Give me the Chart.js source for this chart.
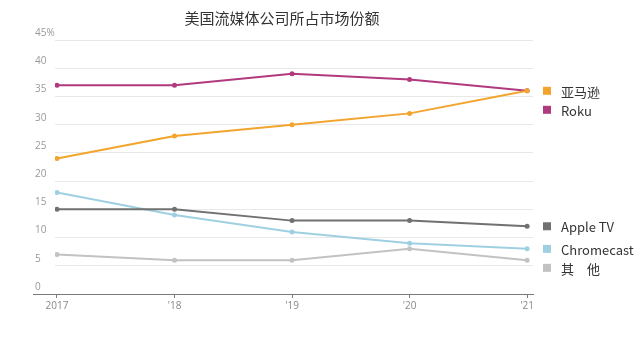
<!DOCTYPE html>
<html>
<head>
<meta charset="utf-8">
<script src="https://cdn.jsdelivr.net/npm/chart.js@4"></script>
<style>
  html, body { margin: 0; padding: 0; background: #fff; }
  #wrap { width: 641px; height: 349px; }
</style>
</head>
<body>
<div id="wrap"><canvas id="shareChart"></canvas></div>
<script>
const years = [2017, 2018, 2019, 2020, 2021];
const yearLabels = ['2017', "'18", "'19", "'20", "'21"];

const amazon = [24, 28, 30, 32, 36];
const roku = [37, 37, 39, 38, 36];
const appleTv = [15, 15, 13, 13, 12];
const chromecast = [18, 14, 11, 9, 8];
const others = [7, 6, 6, 8, 6];

const seriesNames = ['亚马逊', 'Roku', 'Apple TV', 'Chromecast', '其　他'];
const seriesColors = ['#f2a42c', '#b13a7f', '#717171', '#9fd0e2', '#c2c2c2'];
const seriesValues = [amazon, roku, appleTv, chromecast, others];

const CJK = "'Noto Sans CJK SC', 'Noto Sans', sans-serif";

// title centered over the plot, end-of-line legend, and the axis stub on the left
const decorations = {
    id: 'decorations',
    afterDraw(chart) {
        const ctx = chart.ctx;
        const area = chart.chartArea;
        const yScale = chart.scales.y;
        ctx.save();

        ctx.font = '15px ' + CJK;
        ctx.fillStyle = '#333';
        ctx.textAlign = 'center';
        ctx.textBaseline = 'middle';
        ctx.fillText('美国流媒体公司所占市场份额', (area.left + area.right) / 2 - 12, 18);

        ctx.strokeStyle = '#7a7a7a';
        ctx.lineWidth = 1;
        ctx.beginPath();
        ctx.moveTo(yScale.left - 2, area.bottom + 0.5);
        ctx.lineTo(area.left, area.bottom + 0.5);
        ctx.stroke();

        let prev = -Infinity;
        ctx.font = '13px ' + CJK;
        ctx.textAlign = 'left';
        chart.data.datasets.forEach(ds => {
            let y = yScale.getPixelForValue(ds.data[ds.data.length - 1].y);
            if (y < prev + 19) y = prev + 19;
            prev = y;
            ctx.fillStyle = ds.borderColor;
            ctx.fillRect(area.right + 10, y - 4, 8, 8);
            ctx.fillStyle = '#333';
            ctx.fillText(ds.label, area.right + 28, y + 1);
        });
        ctx.restore();
    }
};

const ctx = document.getElementById('shareChart').getContext('2d');

new Chart(ctx, {
    type: 'line',
    data: {
        datasets: seriesNames.map((name, i) => ({
            label: name,
            data: years.map((yr, j) => ({ x: yr, y: seriesValues[i][j] })),
            borderColor: seriesColors[i],
            backgroundColor: seriesColors[i],
            borderWidth: 2,
            pointRadius: 2.5,
            pointBorderWidth: 0,
            tension: 0,
        }))
    },
    options: {
        responsive: true,
        maintainAspectRatio: false,
        animation: false,
        layout: {
            padding: { top: 40, left: 35, right: 108, bottom: 35 }
        },
        scales: {
            x: {
                type: 'linear',
                min: 2016.983,
                max: 2021.05,
                afterBuildTicks: scale => { scale.ticks = years.map(v => ({ value: v })); },
                grid: {
                    drawOnChartArea: false,
                    tickLength: 4,
                    color: '#7a7a7a',
                },
                border: { color: '#7a7a7a' },
                ticks: {
                    padding: 2,
                    color: '#888',
                    font: { family: 'Open Sans', size: 10 },
                    callback: v => yearLabels[years.indexOf(v)],
                },
            },
            y: {
                min: 0,
                max: 45,
                afterFit: scale => { scale.width = 20; },
                grid: {
                    drawTicks: false,
                    color: ctx => ctx.tick && ctx.tick.value === 0 ? 'rgba(0,0,0,0)' : '#e8e8e8',
                },
                border: { display: false },
                ticks: {
                    stepSize: 5,
                    crossAlign: 'far',
                    labelOffset: -7,
                    padding: 0,
                    color: '#999',
                    font: { family: 'Open Sans', size: 10 },
                    callback: v => v === 45 ? '45%' : String(v),
                },
            },
        },
        plugins: {
            legend: { display: false },
            title: { display: false },
            tooltip: { enabled: false },
        },
    },
    plugins: [decorations]
});
</script>
</body>
</html>
